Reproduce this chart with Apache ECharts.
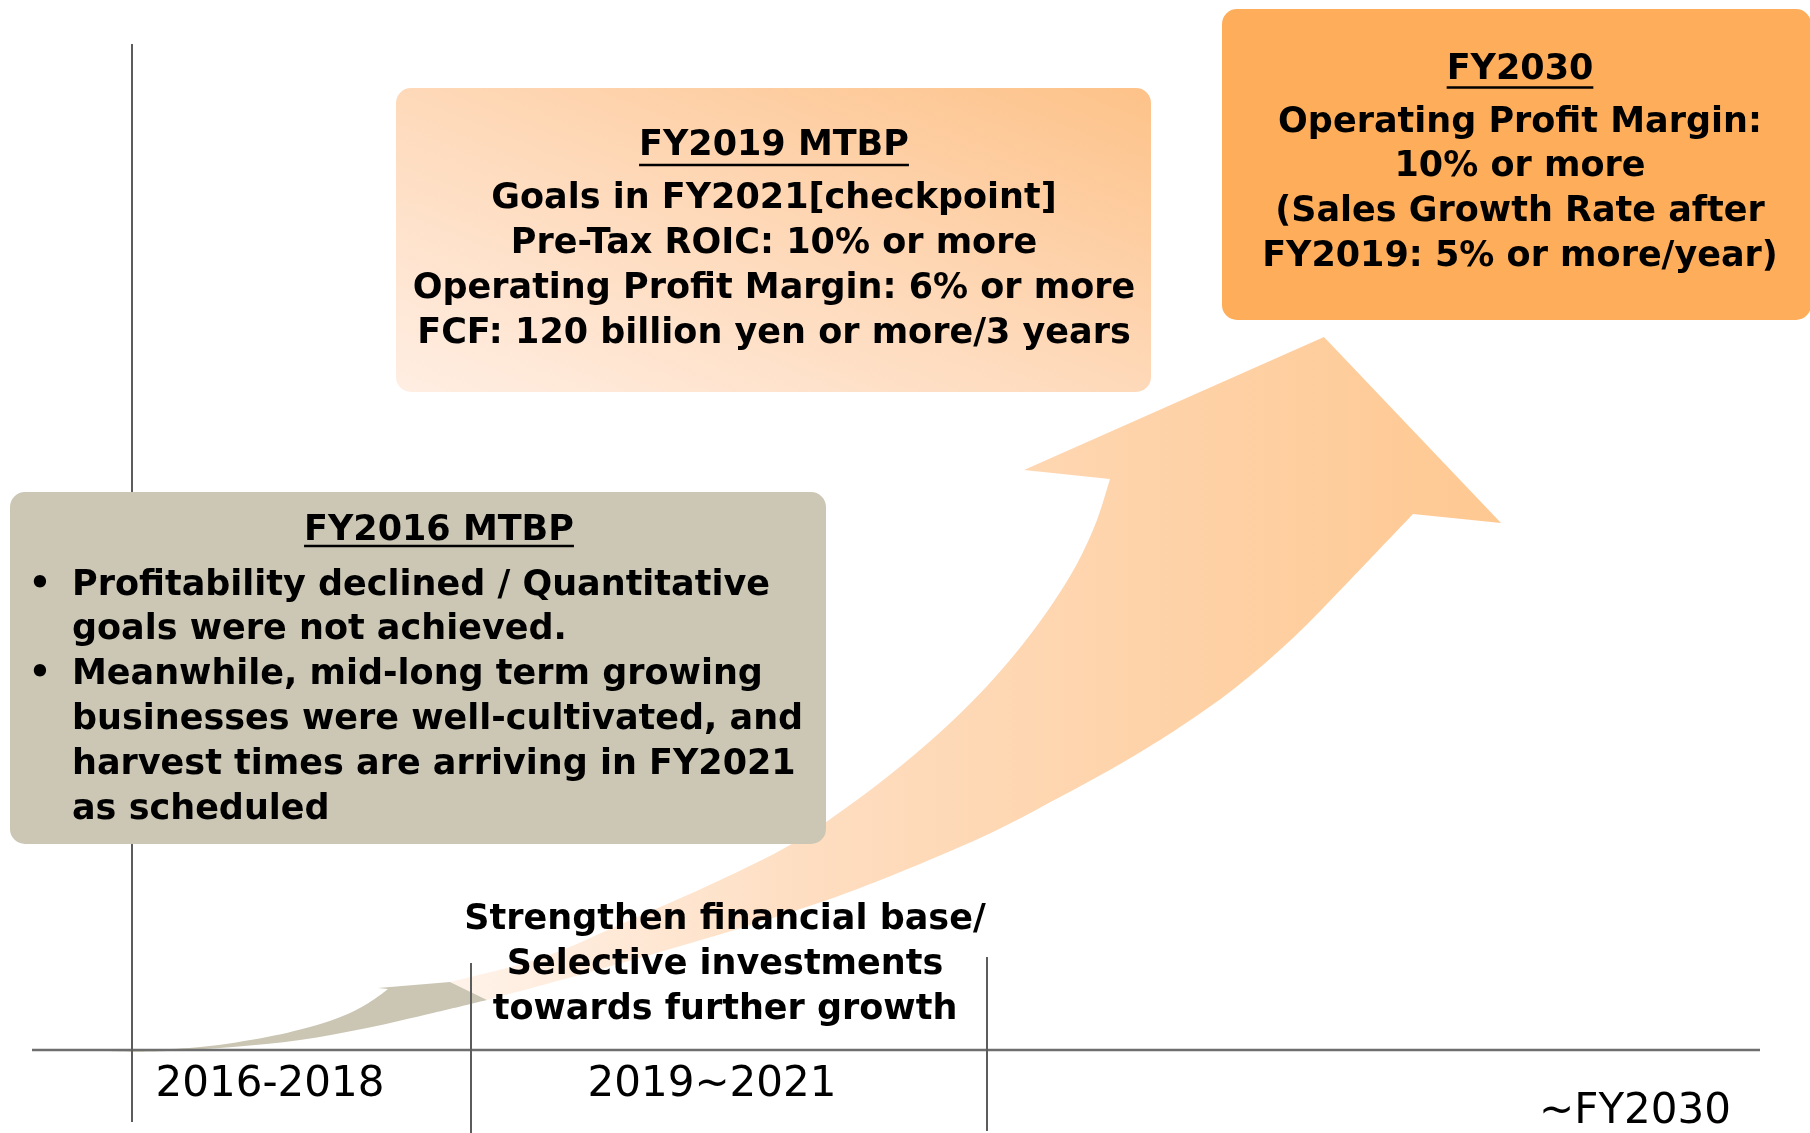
<!DOCTYPE html>
<html>
<head>
<meta charset="utf-8">
<script src="https://cdn.jsdelivr.net/npm/echarts@6/dist/echarts.min.js"></script>
<style>
html,body{margin:0;padding:0;background:#ffffff;}
#chart{width:1810px;height:1133px;}
</style>
</head>
<body>
<div id="chart"></div>
<script>
// ---------------- DATA ----------------
const periods = ['2016-2018', '2019~2021', '~FY2030'];

const plan2016Title = 'FY2016 MTBP';
const plan2016Bullets = [
  ['Profitability declined / Quantitative', 'goals were not achieved.'],
  ['Meanwhile, mid-long term growing', 'businesses were well-cultivated, and', 'harvest times are arriving in FY2021', 'as scheduled']
];

const plan2019Title = 'FY2019 MTBP';
const plan2019Lines = [
  'Goals in FY2021[checkpoint]',
  'Pre-Tax ROIC: 10% or more',
  'Operating Profit Margin: 6% or more',
  'FCF: 120 billion yen or more/3 years'
];

const target2030Title = 'FY2030';
const target2030Lines = [
  'Operating Profit Margin:',
  '10% or more',
  '(Sales Growth Rate after',
  'FY2019: 5% or more/year)'
];

const strategyLines = [
  'Strengthen financial base/',
  'Selective investments',
  'towards further growth'
];

// growth path of the FY2016 (base) arrow, in diagram units
const baseArrowUpper = [[110,1052],[200,1047],[267,1037],[317,1025],[350,1013],[373,1000],[388,989]];
const baseArrowHead  = [[378,988],[450,982],[487,1000]];
const baseArrowLower = [[433,1013],[367,1028],[300,1040],[233,1047],[167,1051]];

// growth path of the FY2019 -> FY2030 arrow, in diagram units
const growthArrowUpper = [[450,982],[541,958],[628,921],[716,882],[790,845],[850,805],[902,765],[948,725],[988,685],[1023,644],[1053,603],[1078,562],[1097,520],[1110,479]];
const growthArrowHead  = [[1024,470],[1324,337],[1501,523],[1413,514]];
const growthArrowLower = [[1350,580],[1293,638],[1235,688],[1180,727],[1127,760],[1060,797],[980,838],[860,888],[760,922],[650,955],[550,983],[487,1000]];

// ---------------- LAYOUT ----------------
const W = 1810, H = 1133;
const FONT_FAMILY = '"DejaVu Sans", Verdana, sans-serif';
const BOLD = 'bold 35px ' + FONT_FAMILY;
const AXIS_FONT = '42px ' + FONT_FAMILY;
const LINE_COLOR = '#5c5c5c';

const layout = {
  timeline: {y: 1050, x0: 32, x1: 1760},
  dividers: [{x: 132, y0: 44, y1: 1122}, {x: 471, y0: 963, y1: 1133}, {x: 987, y0: 957, y1: 1131}],
  periodLabels: [[270, 1085.5], [712, 1085.5], [1635, 1112]],
  box2016: {x0: 10, y0: 492, x1: 826, y1: 844, titleX: 439, titleY: 531, underY: 546, textX: 72, bulletX: 40, firstY: 585.5, step: 44.8},
  box2019: {x0: 396, y0: 88, x1: 1151, y1: 392, cx: 774, titleY: 146, underY: 165, firstY: 198.5, step: 45},
  box2030: {x0: 1222, y0: 9, x1: 1811, y1: 320, cx: 1520, titleY: 70, underY: 87.5, firstY: 122.5, step: 44.7},
  strategy: {cx: 725, firstY: 919.5, step: 45}
};

const measureCtx = document.createElement('canvas').getContext('2d');
function textWidth(t, font) { measureCtx.font = font; return measureCtx.measureText(t).width; }

// Catmull-Rom rendering of an edge as cubic Bezier commands (drawing only)
function smoothCmds(pts) {
  let d = '';
  for (let i = 0; i < pts.length - 1; i++) {
    const p0 = pts[i - 1] || pts[i], p1 = pts[i], p2 = pts[i + 1], p3 = pts[i + 2] || pts[i + 1];
    const c1 = [p1[0] + (p2[0] - p0[0]) / 6, p1[1] + (p2[1] - p0[1]) / 6];
    const c2 = [p2[0] - (p3[0] - p1[0]) / 6, p2[1] - (p3[1] - p1[1]) / 6];
    d += ' C' + c1[0].toFixed(2) + ',' + c1[1].toFixed(2) + ' ' + c2[0].toFixed(2) + ',' + c2[1].toFixed(2) + ' ' + p2[0].toFixed(2) + ',' + p2[1].toFixed(2);
  }
  return d;
}
function arrowPath(upper, head, lower) {
  let d = 'M' + upper[0][0].toFixed(2) + ',' + upper[0][1].toFixed(2) + smoothCmds(upper);
  head.forEach(p => { d += ' L' + p[0].toFixed(2) + ',' + p[1].toFixed(2); });
  d += smoothCmds(lower) + ' Z';
  return d;
}

function renderDiagram(params, api) {
  const P = p => api.coord(p);
  const kids = [];

  function line(a, b, stroke, w) {
    const pa = P(a), pb = P(b);
    kids.push({type: 'line', shape: {x1: pa[0], y1: pa[1], x2: pb[0], y2: pb[1]}, style: {stroke: stroke, lineWidth: w}, silent: true});
  }
  function text(t, p, font, align) {
    const pp = P(p);
    kids.push({type: 'text', x: pp[0], y: pp[1], style: {text: t, font: font, fill: '#000000', align: align || 'center', verticalAlign: 'middle'}, silent: true});
  }
  function title(t, cx, cy, uy) {
    text(t, [cx, cy], BOLD, 'center');
    const w = textWidth(t, BOLD);
    line([cx - w / 2, uy], [cx + w / 2, uy], '#000000', 2.5);
  }
  function box(b, fill) {
    const a = P([b.x0, b.y0]), c = P([b.x1, b.y1]);
    kids.push({type: 'rect', shape: {x: a[0], y: a[1], width: c[0] - a[0], height: c[1] - a[1], r: 15}, style: {fill: fill}, silent: true});
  }

  // growth arrow (behind)
  const gU = growthArrowUpper.map(P), gH = growthArrowHead.map(P);
  const gLw = [gH[gH.length - 1]].concat(growthArrowLower.map(P));
  const gL = P([450, 0])[0], gR = P([1500, 0])[0];
  kids.push({type: 'path', shape: {pathData: arrowPath(gU, gH, gLw)}, silent: true,
    style: {fill: new echarts.graphic.LinearGradient(gL, 0, gR, 0, [
      {offset: 0, color: '#FFF3EA'},
      {offset: 0.35, color: '#FEDDC0'},
      {offset: 1, color: '#FEC891'}
    ], true)}});

  // base arrow
  const bU = baseArrowUpper.map(P), bH = baseArrowHead.map(P);
  const bLw = [bH[bH.length - 1]].concat(baseArrowLower.map(P), [bU[0]]);
  kids.push({type: 'path', shape: {pathData: arrowPath(bU, bH, bLw)}, silent: true, style: {fill: '#CBC6B3'}});

  // timeline & dividers
  const tl = layout.timeline;
  line([tl.x0, tl.y], [tl.x1, tl.y], '#6e6e6e', 2.5);
  layout.dividers.forEach(d => line([d.x, d.y0], [d.x, d.y1], LINE_COLOR, 2));

  // boxes
  const b16 = layout.box2016, b19 = layout.box2019, b30 = layout.box2030;
  box(b16, '#CCC7B4');
  const bl = P([b19.x0, b19.y1]), tr = P([b19.x1, b19.y0]);
  const dx = tr[0] - bl[0], dy = tr[1] - bl[1];
  const nx = -dy, ny = -dx;
  const nl = Math.sqrt(nx * nx + ny * ny);
  const ux = nx / nl, uy = ny / nl;
  const proj = dx * ux + dy * uy;
  box(b19, new echarts.graphic.LinearGradient(bl[0], bl[1], bl[0] + ux * proj, bl[1] + uy * proj, [
    {offset: 0, color: '#FFEEE3'},
    {offset: 0.5, color: '#FED9B9'},
    {offset: 1, color: '#FDC289'}
  ], true));
  box(b30, '#FEAD5A');

  // FY2016 text
  title(plan2016Title, b16.titleX, b16.titleY, b16.underY);
  let row = 0;
  plan2016Bullets.forEach(group => {
    group.forEach((t, i) => {
      const y = b16.firstY + row * b16.step;
      if (i === 0) text('\u2022', [b16.bulletX, y], BOLD, 'center');
      text(t, [b16.textX, y], BOLD, 'left');
      row++;
    });
  });

  // FY2019 text
  title(plan2019Title, b19.cx, b19.titleY, b19.underY);
  plan2019Lines.forEach((t, i) => text(t, [b19.cx, b19.firstY + i * b19.step], BOLD, 'center'));

  // FY2030 text
  title(target2030Title, b30.cx, b30.titleY, b30.underY);
  target2030Lines.forEach((t, i) => text(t, [b30.cx, b30.firstY + i * b30.step], BOLD, 'center'));

  // strategy text
  const s = layout.strategy;
  strategyLines.forEach((t, i) => text(t, [s.cx, s.firstY + i * s.step], BOLD, 'center'));

  // period labels
  periods.forEach((t, i) => text(t, layout.periodLabels[i], AXIS_FONT, 'center'));

  return {type: 'group', children: kids};
}

const chart = echarts.init(document.getElementById('chart'), null, {renderer: 'canvas'});
chart.setOption({
  animation: false,
  backgroundColor: '#ffffff',
  grid: {left: 0, right: 0, top: 0, bottom: 0, containLabel: false},
  xAxis: {type: 'value', min: 0, max: W, show: false},
  yAxis: {type: 'value', min: 0, max: H, inverse: true, show: false},
  series: [{
    type: 'custom',
    coordinateSystem: 'cartesian2d',
    data: [[0, 0]],
    renderItem: renderDiagram,
    silent: true
  }]
});
</script>
</body>
</html>
